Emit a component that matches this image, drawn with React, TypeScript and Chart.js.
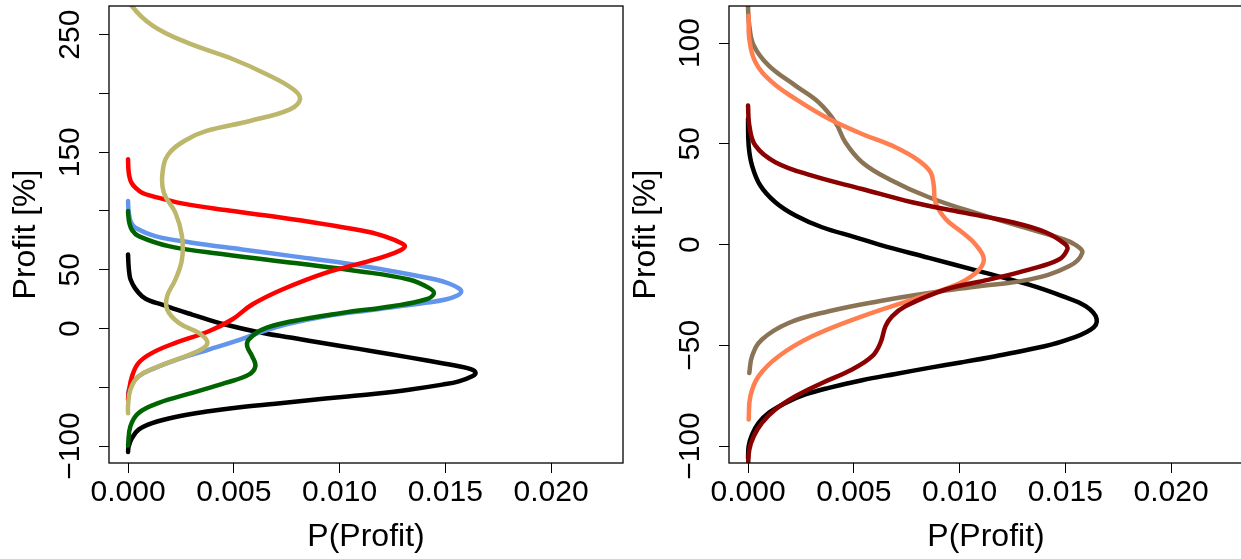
import React, { useEffect, useRef } from "react";
import { Chart, registerables } from "chart.js";

Chart.register(...registerables);

// ---- axes ----
const xTicks = [0, 0.005, 0.01, 0.015, 0.02];
const leftYTicks = [-100, -50, 0, 50, 100, 150, 200, 250];
const leftYLabelled = [-100, 0, 50, 150, 250];
const rightYTicks = [-100, -50, 0, 50, 100];
const rightYLabelled = [-100, -50, 0, 50, 100];
const xTitle = "P(Profit)";
const yTitle = "Profit [%]";

// ---- left panel curves: [P(Profit), Profit] ----
const leftBlack: [number, number][] = [
  [0, 63], [0.00002, 55], [0.00006, 47], [0.00012, 41.7], [0.00032, 34.6], [0.00066, 27.5],
  [0.00105, 23.5], [0.00161, 20.4], [0.0023, 16], [0.00303, 11.9], [0.0046, 3.4],
  [0.00618, -3.1], [0.00776, -7.9], [0.00934, -12.8], [0.01091, -17.3], [0.01249, -22.1],
  [0.01407, -27], [0.01564, -32.1], [0.0162, -34.6], [0.01643, -37.5], [0.01627, -40.6],
  [0.01564, -44.9], [0.01486, -47.7], [0.01328, -52], [0.0117, -55.4], [0.01012, -58.2],
  [0.00855, -61], [0.00697, -63.9], [0.00539, -66.7], [0.00382, -70.4], [0.00224, -75.2],
  [0.00114, -80.4], [0.0005, -86], [0.00019, -93.1], [0.00003, -100.2], [0, -105],
];
const leftBlue: [number, number][] = [
  [0, 108.5], [0.00002, 101], [0.00006, 95.7], [0.00015, 90], [0.00035, 85.7], [0.00129, 78.6],
  [0.00303, 73], [0.00539, 67.3], [0.00776, 61.6], [0.01012, 55.9], [0.01249, 48.8],
  [0.01454, 41.7], [0.01517, 38.3], [0.01564, 34.1], [0.01575, 31.2], [0.01557, 28.1],
  [0.01501, 24.7], [0.01407, 21.9], [0.0117, 16.2], [0.00934, 10.5], [0.00744, 3.4],
  [0.00618, -3.7], [0.00508, -10.8], [0.00382, -17.9], [0.00255, -25], [0.00129, -33.5],
  [0.0005, -40.6], [0.00011, -49.1], [0, -54.8],
];
const leftGreen: [number, number][] = [
  [0, 100], [0.00002, 95], [0.00006, 90], [0.0002, 83.5], [0.0005, 78.6], [0.00192, 70.1],
  [0.0046, 63], [0.00776, 55.9], [0.01091, 48.8], [0.01328, 41.7], [0.01422, 34.6],
  [0.01446, 29.8], [0.01407, 24.7], [0.01249, 19], [0.01012, 13.3], [0.00776, 6.2],
  [0.00634, -0.9], [0.00571, -9.4], [0.00563, -15], [0.00587, -23.6], [0.00602, -32.1],
  [0.00571, -39.2], [0.0046, -46.3], [0.00303, -54.8], [0.00145, -63.3], [0.0005, -71.8],
  [0.00011, -83.2], [0, -99.5],
];
const leftRed: [number, number][] = [
  [0, 144], [0.00002, 135], [0.00006, 129.8], [0.00016, 124.1], [0.00035, 119.8],
  [0.00066, 115.6], [0.00114, 112.7], [0.00255, 106.5], [0.0046, 100.8], [0.00697, 95.1],
  [0.00934, 88.6], [0.01139, 82.1], [0.01217, 78.1], [0.01288, 73], [0.01309, 70.1],
  [0.01288, 66.7], [0.01217, 61.6], [0.01139, 57.4], [0.00934, 47.4], [0.00729, 33.2],
  [0.00587, 20.4], [0.00492, 7.7], [0.00382, -2.3], [0.00224, -12.2], [0.00114, -20.7],
  [0.0005, -29.2], [0.00019, -40.6], [0.00003, -54.8], [0, -60.5],
];
const leftKhaki: [number, number][] = [
  [0.00005, 285], [0.00016, 275], [0.00118, 257.5], [0.00277, 243.4], [0.00497, 229.1],
  [0.00655, 216.4], [0.00781, 203.6], [0.00813, 195.1], [0.00766, 186.5], [0.00576, 176.6],
  [0.00371, 168.1], [0.0027, 160], [0.0019, 148], [0.00163, 132.6], [0.00169, 115.6],
  [0.00224, 98.5], [0.00255, 78.6], [0.00255, 58.8], [0.00224, 41.7], [0.00185, 27.5],
  [0.00185, 16.2], [0.0024, 4.8], [0.00334, -3.7], [0.00374, -10.8], [0.00358, -16.5],
  [0.00271, -23.6], [0.00145, -32.1], [0.0005, -40.6], [0.00011, -52], [0, -66], [0, -72],
];

// ---- right panel curves ----
const rightBlack: [number, number][] = [
  [0, 62.5], [0.00003, 49], [0.00019, 39.2], [0.00058, 29.3], [0.00129, 21], [0.00224, 14.4],
  [0.0035, 8.6], [0.00508, 3.6], [0.0062, 0], [0.00855, -6.6], [0.01091, -13.2],
  [0.01328, -19.9], [0.01486, -25.6], [0.01596, -30.6], [0.01648, -36.9], [0.0162, -42.2],
  [0.01486, -48], [0.01328, -52.1], [0.0117, -55.4], [0.01012, -58.4], [0.00855, -61.2],
  [0.00697, -64.2], [0.00539, -67.3], [0.00382, -71.1], [0.00271, -74.4], [0.00177, -78.6],
  [0.00098, -83.5], [0.0005, -88.5], [0.00019, -94.3], [0.00003, -100], [0, -106],
];
const rightBrown: [number, number][] = [
  [0, 125], [0, 118], [0.00006, 108.7], [0.00027, 98.8], [0.00098, 88.8], [0.00224, 78.9],
  [0.00334, 70.6], [0.00413, 60.7], [0.0046, 50.8], [0.00539, 40.9], [0.00665, 32.6],
  [0.00855, 23.5], [0.01091, 15.2], [0.01328, 7.8], [0.01486, 2.8], [0.01549, -0.2],
  [0.0158, -4.1], [0.01517, -10.8], [0.01328, -17.4], [0.01091, -20.7], [0.00855, -24],
  [0.00618, -28.1], [0.00382, -33.1], [0.00192, -38.9], [0.00066, -47.1], [0.00019, -55.4],
  [0.00006, -63.7],
];
const rightCoral: [number, number][] = [
  [0.00003, 113.6], [0.00006, 102.1], [0.00035, 90.5], [0.00114, 80.6], [0.00224, 72.3],
  [0.00382, 62.4], [0.00539, 54.9], [0.00697, 48.3], [0.00807, 41.7], [0.00863, 35.9],
  [0.00878, 29.3], [0.00886, 21], [0.00934, 12.7], [0.01012, 6.1], [0.01076, 0],
  [0.01115, -7.4], [0.01076, -14.1], [0.00965, -20.7], [0.00776, -27.3], [0.00539, -35.6],
  [0.00303, -45.5], [0.00145, -55.4], [0.0005, -65.3], [0.00011, -75.3], [0.00003, -86.8],
];
const rightDarkRed: [number, number][] = [
  [0, 69], [0.00006, 59.1], [0.00035, 49.1], [0.00129, 40.9], [0.00303, 34.2], [0.00539, 27.6],
  [0.00776, 21], [0.01012, 16], [0.01249, 11.1], [0.01407, 6.1], [0.01501, 0], [0.01509, -2.5],
  [0.0147, -7.4], [0.01328, -12.4], [0.01139, -17.4], [0.00934, -22.3], [0.00744, -30.6],
  [0.00681, -35.6], [0.0065, -40.5], [0.00626, -48.8], [0.00587, -55.4], [0.00492, -62],
  [0.0035, -68.7], [0.00224, -75.3], [0.00129, -81.9], [0.00066, -88.5], [0.00027, -95.1],
  [0.00006, -101.7], [0, -110],
];

// first listed = drawn on top
const leftCurves = [
  { name: "khaki", color: "#BDB76B", points: leftKhaki },
  { name: "red", color: "#FF0000", points: leftRed },
  { name: "green", color: "#006400", points: leftGreen },
  { name: "blue", color: "#6495ED", points: leftBlue },
  { name: "black", color: "#000000", points: leftBlack },
];
const rightCurves = [
  { name: "darkred", color: "#8B0000", points: rightDarkRed },
  { name: "coral", color: "#FF7F50", points: rightCoral },
  { name: "brown", color: "#8B7355", points: rightBrown },
  { name: "black", color: "#000000", points: rightBlack },
];

const FAMILY = "'Liberation Sans', Arial, Helvetica, sans-serif";

const boxPlugin = {
  id: "rbox",
  afterDatasetsDraw(chart: any) {
    const { ctx, chartArea: a } = chart;
    ctx.save();
    ctx.strokeStyle = "#000";
    ctx.lineWidth = 1.3;
    ctx.strokeRect(a.left, a.top, a.right - a.left, a.bottom - a.top);
    ctx.restore();
  },
};

const fmtY = (v: number) => (v < 0 ? "\u2212" + Math.abs(v) : String(v));

function makeConfig(
  curves: { name: string; color: string; points: [number, number][] }[],
  yMin: number,
  yMax: number,
  yTicks: number[],
  yLabelled: number[],
  padRight: number
): any {
  const grid = {
    display: true,
    drawOnChartArea: false,
    drawTicks: true,
    tickLength: 10,
    color: "#000",
    lineWidth: 1,
  };
  return {
    type: "scatter",
    data: {
      datasets: curves.map((c) => ({
        label: c.name,
        data: c.points.map(([x, y]) => ({ x, y })),
        borderColor: c.color,
        backgroundColor: c.color,
        borderWidth: 4.5,
        pointRadius: 0,
        pointHoverRadius: 0,
        showLine: true,
        fill: false,
        tension: 0.4,
        borderCapStyle: "round",
        borderJoinStyle: "round",
      })),
    },
    options: {
      responsive: false,
      animation: false,
      events: [],
      layout: { padding: { top: 6, right: padRight, left: 0, bottom: 0 } },
      plugins: { legend: { display: false }, tooltip: { enabled: false } },
      scales: {
        x: {
          type: "linear",
          min: -0.0009,
          max: 0.0234,
          afterBuildTicks: (s: any) => {
            s.ticks = xTicks.map((v) => ({ value: v }));
          },
          afterFit: (s: any) => {
            s.height = 96;
            s.paddingLeft = 0;
            s.paddingRight = 0;
          },
          grid,
          border: { display: false },
          ticks: {
            color: "#000",
            font: { family: FAMILY, size: 30 },
            padding: 2,
            minRotation: 0,
            maxRotation: 0,
            autoSkip: false,
            callback: (v: any) => Number(v).toFixed(3),
          },
          title: {
            display: true,
            text: xTitle,
            color: "#000",
            font: { family: FAMILY, size: 32 },
            padding: { top: 0, bottom: 3 },
          },
        },
        y: {
          type: "linear",
          min: yMin,
          max: yMax,
          afterBuildTicks: (s: any) => {
            s.ticks = yTicks.map((v) => ({ value: v }));
          },
          afterFit: (s: any) => {
            s.width = 109;
            s.paddingTop = 0;
            s.paddingBottom = 0;
          },
          grid,
          border: { display: false },
          ticks: {
            color: "#000",
            font: { family: FAMILY, size: 30 },
            padding: -6,
            minRotation: 90,
            maxRotation: 90,
            crossAlign: "center",
            autoSkip: false,
            callback: (v: any) => (yLabelled.includes(Number(v)) ? fmtY(Number(v)) : ""),
          },
          title: {
            display: true,
            text: yTitle,
            color: "#000",
            font: { family: FAMILY, size: 32 },
            padding: { top: 7, bottom: 0 },
          },
        },
      },
    },
    plugins: [boxPlugin],
  };
}

export default function App() {
  const leftRef = useRef<HTMLCanvasElement | null>(null);
  const rightRef = useRef<HTMLCanvasElement | null>(null);

  useEffect(() => {
    const charts: Chart[] = [];
    if (leftRef.current) {
      charts.push(
        new Chart(leftRef.current, makeConfig(leftCurves, -114.4, 274.4, leftYTicks, leftYLabelled, 2))
      );
    }
    if (rightRef.current) {
      charts.push(
        new Chart(rightRef.current, makeConfig(rightCurves, -108.4, 118.4, rightYTicks, rightYLabelled, 0))
      );
    }
    return () => charts.forEach((c) => c.destroy());
  }, []);

  return (
    <div
      style={{
        position: "absolute",
        left: 0,
        top: 0,
        width: 1241,
        height: 559,
        overflow: "hidden",
        background: "#fff",
      }}
    >
      <canvas
        ref={leftRef}
        width={625}
        height={559}
        style={{ position: "absolute", left: 0, top: 0, width: 625, height: 559 }}
      />
      <canvas
        ref={rightRef}
        width={623}
        height={559}
        style={{ position: "absolute", left: 620, top: 0, width: 623, height: 559 }}
      />
    </div>
  );
}
